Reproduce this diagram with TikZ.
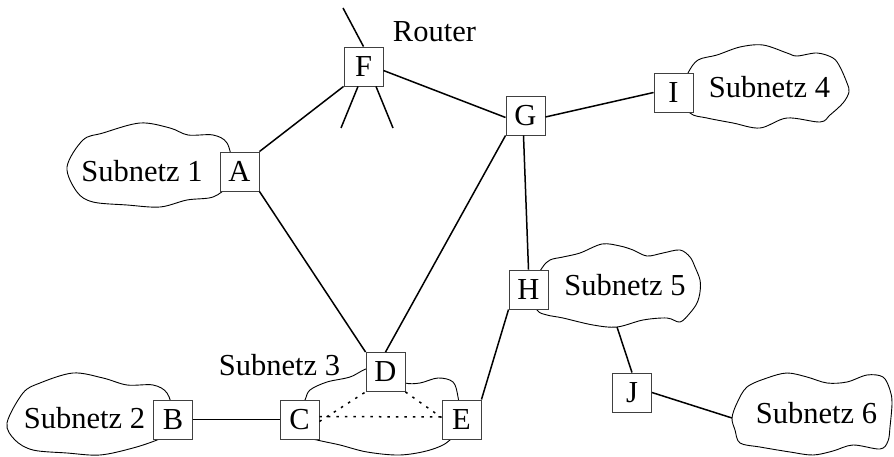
\documentclass[tikz,border=0pt]{standalone}
\usepackage{fontspec}
\setmainfont{Liberation Serif}
\begin{document}
\begin{tikzpicture}[x=1pt,y=-1pt,
  every node/.style={font=\fontsize{30.5}{36}\selectfont},
  box/.style={draw=black!75, line width=0.9pt, fill=white, minimum size=39pt, inner sep=0pt},
  link/.style={line width=1.5pt},
  lan/.style={line width=1.5pt, dash pattern=on 2.5pt off 6pt},
  cloud/.style={line width=0.9pt},
  lbl/.style={anchor=base, inner sep=0pt}]
\useasboundingbox (0,0) rectangle (894,457);

% subnet clouds
\draw[cloud] plot[smooth cycle, tension=0.55] coordinates {
  (67,167) (83,140) (103,133) (140,123) (170,128) (188,135) (213,135)
  (227,143) (232,165) (228,185) (213,197) (187,200) (160,207) (127,205)
  (93,202) (77,192)};
\draw[cloud] plot[smooth cycle, tension=0.55] coordinates {
  (7,423) (23,393) (40,383) (73,373) (103,378) (127,385) (153,385)
  (167,393) (172,412) (165,435) (157,440) (133,448) (100,455) (67,453)
  (33,450) (15,440)};
\draw[cloud] plot[smooth cycle, tension=0.55] coordinates {
  (305,400) (310,390) (327,382) (350,377) (370,368) (390,375) (405,383)
  (420,383) (438,378) (453,382) (458,397) (460,420) (450,440) (430,450)
  (400,455) (367,452) (340,445) (317,440) (300,435) (298,415)};
\draw[cloud] plot[smooth cycle, tension=0.55] coordinates {
  (688,73) (698,60) (717,55) (740,47) (763,45) (787,53) (797,56)
  (817,53) (833,58) (840,67) (847,83) (849,92) (843,103) (830,115)
  (820,122) (787,118) (760,128) (733,123) (707,118) (690,113) (680,93)};
\draw[cloud] plot[smooth cycle, tension=0.55] coordinates {
  (542,268) (550,260) (563,257) (580,253) (602,244) (620,246) (633,250)
  (647,256) (663,253) (680,250) (690,257) (695,267) (700,280) (700,292)
  (697,303) (690,313) (680,322) (667,318) (643,320) (617,327) (593,325)
  (563,318) (547,315) (537,310) (530,290)};
\draw[cloud] plot[smooth cycle, tension=0.55] coordinates {
  (732,418) (737,403) (747,387) (767,378) (787,373) (807,377) (827,383)
  (847,382) (867,375) (883,377) (890,390) (892,403) (890,427) (888,441)
  (880,449) (853,445) (833,451) (813,455) (790,452) (760,447) (740,443)
  (735,430)};

% stations
\node[box] (F) at (363.5,66.5) {F};
\node[box] (G) at (525.5,115.5) {G};
\node[box] (I) at (673.5,92.5) {I};
\node[box] (A) at (239.5,171.5) {A};
\node[box] (H) at (528.5,289.5) {H};
\node[box] (D) at (385.5,372) {D};
\node[box] (C) at (299.5,419.5) {C};
\node[box] (E) at (461.5,419.5) {E};
\node[box] (B) at (173,419.5) {B};
\node[box] (J) at (632,392.5) {J};

% labels
\node[lbl] (router) at (434.5,42) {Router};
\node[lbl] (s1) at (142,182) {Subnetz 1};
\node[lbl] (s2) at (84.5,428) {Subnetz 2};
\node[lbl] (s3) at (279.5,375) {Subnetz 3};
\node[lbl] (s4) at (769.5,98) {Subnetz 4};
\node[lbl] (s5) at (625,295) {Subnetz 5};
\node[lbl] (s6) at (816.5,423) {Subnetz 6};

% free line ends
\coordinate (rtop) at (343,8);
\coordinate (rb1) at (341,128);
\coordinate (rb2) at (393,128);
\coordinate (n5) at (617,327);
\coordinate (n6) at (732,418);

% router stubs
\draw[link] (F.north) -- (rtop);
\draw[link] ([xshift=-5.5pt]F.south) -- (rb1);
\draw[link] ([xshift=12.5pt]F.south) -- (rb2);

% links
\draw[link] (A.north east) -- (F.south west);
\draw[link] ([yshift=-4pt]F.east) -- ([yshift=-2pt]G.west);
\draw[link] ([yshift=-1.5pt]G.east) -- (I.west);
\draw[link] ([xshift=-2pt]G.south) -- (H.north);
\draw[link] (G.south west) -- (D.north);
\draw[link] (A.south east) -- (D.north west);
\draw[link] (H.south west) -- (E.north east);
\draw[link] (B.east) -- (C.west);
\draw[link] (n5) -- (J.north);
\draw[link] (J.east) -- (n6);

% links inside subnet 3
\draw[lan] ([yshift=-2pt]C.east) -- (D.south west);
\draw[lan] ([yshift=3pt]C.east) -- ([yshift=2.5pt]E.west);
\draw[lan] (D.south east) -- ([yshift=2pt]E.west);
\end{tikzpicture}
\end{document}
